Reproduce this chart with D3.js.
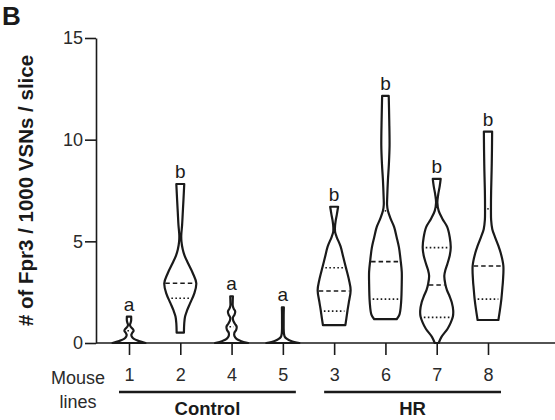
<!DOCTYPE html>
<html>
<head>
<meta charset="utf-8">
<script src="https://cdn.jsdelivr.net/npm/d3@7"></script>
<style>
  body { margin: 0; background: #fff; }
  svg { font-family: "Liberation Sans", Arial, sans-serif; }
</style>
</head>
<body>
<div id="chart"></div>
<script>
const W = 555
const H = 420

// mouse lines, in the order they are plotted
const mouseLines = ['1', '2', '4', '5', '3', '6', '7', '8']
const groupNames = ['Control', 'HR']
const groupMembers = [['1', '2', '4', '5'], ['3', '6', '7', '8']]
const letters = ['a', 'b', 'a', 'a', 'b', 'b', 'b', 'b']
const yTicks = [0, 5, 10, 15]

// summary values per line (# of Fpr3 / 1000 VSNs / slice)
const medians = [0, 2.94, 0, 0, 2.56, 4.0, 2.85, 3.79]
const lowerQuartiles = [0, 2.2, 0, 0, 1.57, 2.16, 1.26, 2.16]
const upperQuartiles = [0.6, 5.2, 0.8, 0, 3.7, 6.5, 4.69, 6.6]

// violin outlines: [value, relative density]
const shape1 = [[0, 1], [0.1, 0.6], [0.2, 0.3], [0.3, 0.18], [0.4, 0.14], [0.5, 0.2], [0.6, 0.28], [0.7, 0.22], [0.8, 0.1], [0.9, 0.06], [1.0, 0.1], [1.1, 0.13], [1.3, 0.13]]
const shape2 = [[0.51, 0.22], [0.97, 0.24], [1.3, 0.29], [1.6, 0.41], [1.95, 0.59], [2.44, 0.85], [2.94, 0.97], [3.43, 0.76], [3.92, 0.47], [4.3, 0.26], [4.6, 0.15], [5.0, 0.07], [5.3, 0.06], [5.8, 0.11], [6.4, 0.15], [7.0, 0.19], [7.82, 0.24]]
const shape4 = [[0, 1], [0.1, 0.55], [0.2, 0.3], [0.35, 0.17], [0.5, 0.17], [0.65, 0.28], [0.8, 0.31], [0.95, 0.2], [1.1, 0.1], [1.25, 0.08], [1.4, 0.18], [1.55, 0.22], [1.7, 0.12], [1.85, 0.07], [2.0, 0.07], [2.3, 0.08]]
const shape5 = [[0, 1], [0.1, 0.5], [0.2, 0.25], [0.3, 0.12], [0.45, 0.07], [0.7, 0.05], [1.0, 0.05], [1.4, 0.05], [1.75, 0.06]]
const shape3 = [[0.88, 0.68], [1.2, 0.74], [1.6, 0.81], [2.0, 0.89], [2.6, 1.0], [3.1, 0.9], [3.75, 0.7], [4.2, 0.56], [4.75, 0.39], [5.2, 0.16], [5.45, 0.06], [5.7, 0.05], [6.0, 0.09], [6.3, 0.16], [6.7, 0.24]]
const shape6 = [[1.17, 0.68], [1.4, 0.85], [2.0, 0.95], [3.0, 0.99], [3.5, 0.99], [4.0, 0.93], [4.7, 0.82], [5.2, 0.68], [5.7, 0.53], [6.1, 0.32], [6.5, 0.15], [6.8, 0.1], [7.2, 0.11], [8.0, 0.15], [8.8, 0.21], [9.7, 0.25], [11.0, 0.23], [12.15, 0.2]]
const shape7 = [[0, 0.12], [0.3, 0.29], [0.7, 0.66], [1.0, 0.85], [1.3, 0.98], [1.6, 1.0], [2.0, 0.91], [2.3, 0.78], [2.6, 0.62], [2.9, 0.52], [3.3, 0.46], [3.6, 0.53], [3.9, 0.65], [4.3, 0.79], [4.7, 0.85], [5.2, 0.79], [5.7, 0.64], [6.1, 0.35], [6.5, 0.12], [6.9, 0.04], [7.3, 0.09], [7.7, 0.18], [8.07, 0.24]]
const shape8 = [[1.13, 0.63], [1.6, 0.72], [2.16, 0.81], [2.7, 0.87], [3.1, 0.91], [3.8, 0.93], [4.4, 0.78], [4.8, 0.62], [5.2, 0.43], [5.6, 0.26], [6.05, 0.19], [6.6, 0.18], [7.5, 0.19], [8.5, 0.22], [9.5, 0.24], [10.4, 0.25]]
const shapes = [shape1, shape2, shape4, shape5, shape3, shape6, shape7, shape8]

const svg = d3.select('#chart').append('svg')
  .attr('width', W)
  .attr('height', H)

const AXIS_X = 96
const y = d3.scaleLinear().domain([0, 15]).range([343, 38])
const x = d3.scalePoint().domain(mouseLines).range([129, 488])
const halfWidth = d3.scaleLinear().domain([0, 1]).range([0, 16.5])

const ink = '#1a1a1a'
const FONT = 'Liberation Sans, Arial, sans-serif'

// y axis
const yAxis = svg.append('g')
  .attr('transform', 'translate(' + AXIS_X + ',0)')
  .call(d3.axisLeft(y).tickValues(yTicks).tickSize(11).tickSizeOuter(0).tickPadding(2))
yAxis.selectAll('path, line').attr('stroke', ink).attr('stroke-width', 1.6)
yAxis.selectAll('text').attr('font-size', 18).attr('fill', '#2a2a2a').attr('font-family', FONT)

// x axis
const xAxis = svg.append('g')
  .attr('transform', 'translate(0,' + y(0) + ')')
  .call(d3.axisBottom(x).tickSize(12).tickSizeOuter(0).tickPadding(13))
xAxis.select('.domain').remove()
xAxis.selectAll('line').attr('stroke', ink).attr('stroke-width', 1.6)
xAxis.selectAll('text').attr('font-size', 18).attr('fill', '#2a2a2a').attr('font-family', FONT)
svg.append('line')
  .attr('x1', AXIS_X).attr('x2', W)
  .attr('y1', y(0)).attr('y2', y(0))
  .attr('stroke', ink).attr('stroke-width', 1.6)

// violins
const area = d3.area()
  .curve(d3.curveCatmullRom.alpha(0.5))

function densityAt (shape, v) {
  for (let i = 1; i < shape.length; i++) {
    if (v <= shape[i][0]) {
      const a = shape[i - 1]
      const b = shape[i]
      const t = (v - a[0]) / (b[0] - a[0])
      return a[1] + t * (b[1] - a[1])
    }
  }
  return shape[shape.length - 1][1]
}

mouseLines.forEach(function (line, i) {
  const cx = x(line)
  const shape = shapes[i]
  const g = svg.append('g')

  g.append('path')
    .attr('d', area
      .y(function (d) { return y(d[0]) })
      .x0(function (d) { return cx - halfWidth(d[1]) })
      .x1(function (d) { return cx + halfWidth(d[1]) })(shape))
    .attr('fill', 'none')
    .attr('stroke', ink)
    .attr('stroke-width', 2.2)
    .attr('stroke-linejoin', 'round')

  const marks = [
    { v: medians[i], dash: '4.5,3', inset: 1 },
    { v: lowerQuartiles[i], dash: '1.6,2.4', inset: 3 },
    { v: upperQuartiles[i], dash: '1.6,2.4', inset: 3 }
  ]
  marks.forEach(function (m) {
    if (m.v <= 0) return
    const hw = halfWidth(densityAt(shape, m.v)) - m.inset
    if (hw <= 0.5) {
      g.append('circle').attr('cx', cx).attr('cy', y(m.v)).attr('r', 0.9).attr('fill', ink)
      return
    }
    g.append('line')
      .attr('x1', cx - hw).attr('x2', cx + hw)
      .attr('y1', y(m.v)).attr('y2', y(m.v))
      .attr('stroke', ink)
      .attr('stroke-width', 1.6)
      .attr('stroke-dasharray', m.dash)
  })

  const top = shape[shape.length - 1][0]
  svg.append('text')
    .attr('x', cx)
    .attr('y', y(top) - 6)
    .attr('text-anchor', 'middle')
    .attr('font-size', 19)
    .attr('fill', ink)
    .text(letters[i])
})

// row title
svg.append('text')
  .attr('x', 78).attr('y', 383.5)
  .attr('text-anchor', 'middle')
  .attr('font-size', 18).attr('fill', '#2a2a2a')
  .text('Mouse')
svg.append('text')
  .attr('x', 78).attr('y', 408)
  .attr('text-anchor', 'middle')
  .attr('font-size', 18).attr('fill', '#2a2a2a')
  .text('lines')

// group brackets
groupNames.forEach(function (name, gi) {
  const members = groupMembers[gi]
  const x1 = x(members[0]) - 10
  const x2 = x(members[members.length - 1]) + 13
  svg.append('line')
    .attr('x1', x1).attr('x2', x2)
    .attr('y1', 392).attr('y2', 392)
    .attr('stroke', ink).attr('stroke-width', 2.6)
  svg.append('text')
    .attr('x', (x1 + x2) / 2)
    .attr('y', 415)
    .attr('text-anchor', 'middle')
    .attr('font-size', 18.5)
    .attr('font-weight', 'bold')
    .attr('fill', ink)
    .text(name)
})

// y title
svg.append('text')
  .attr('transform', 'translate(33,' + ((y(0) + y(15)) / 2) + ') rotate(-90)')
  .attr('text-anchor', 'middle')
  .attr('font-size', 20.5)
  .attr('font-weight', 'bold')
  .attr('fill', ink)
  .text('# of Fpr3 / 1000 VSNs / slice')

// panel letter
svg.append('text')
  .attr('x', 2).attr('y', 25)
  .attr('font-size', 26)
  .attr('font-weight', 'bold')
  .attr('fill', ink)
  .text('B')
</script>
</body>
</html>
